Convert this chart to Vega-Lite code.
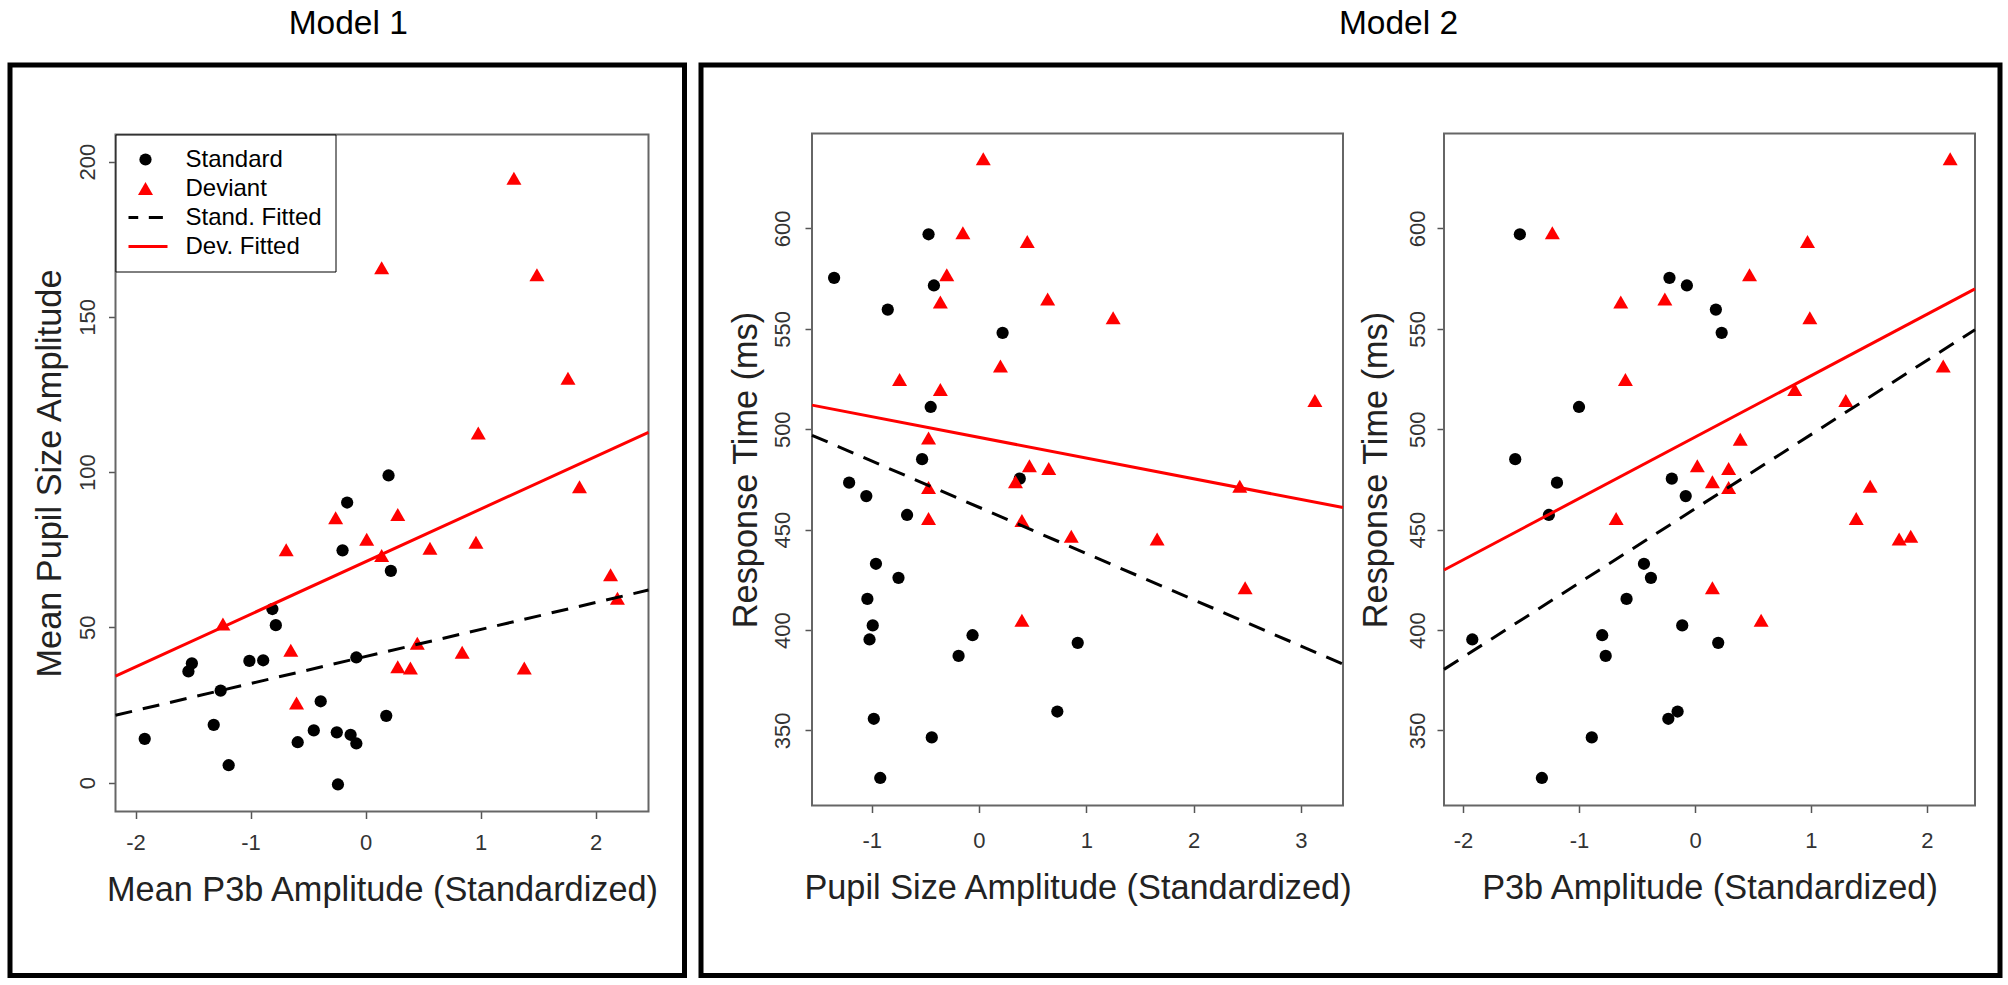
{
  "$schema": "https://vega.github.io/schema/vega-lite/v6.json",
  "background": "white",
  "padding": {"left": 7, "top": 4, "right": 0, "bottom": 0},
  "spacing": 11,
  "datasets": {
    "p1": [
      {"x": -1.92, "y": 14.1, "series": "Standard"},
      {"x": -1.54, "y": 35.8, "series": "Standard"},
      {"x": -1.51, "y": 38.4, "series": "Standard"},
      {"x": -1.26, "y": 29.6, "series": "Standard"},
      {"x": -1.32, "y": 18.6, "series": "Standard"},
      {"x": -1.19, "y": 5.6, "series": "Standard"},
      {"x": -1.01, "y": 39.2, "series": "Standard"},
      {"x": -0.89, "y": 39.4, "series": "Standard"},
      {"x": -0.81, "y": 55.9, "series": "Standard"},
      {"x": -0.78, "y": 50.7, "series": "Standard"},
      {"x": -0.59, "y": 13.0, "series": "Standard"},
      {"x": -0.45, "y": 16.8, "series": "Standard"},
      {"x": -0.39, "y": 26.2, "series": "Standard"},
      {"x": -0.25, "y": 16.2, "series": "Standard"},
      {"x": -0.24, "y": -0.6, "series": "Standard"},
      {"x": -0.16, "y": 90.2, "series": "Standard"},
      {"x": -0.20, "y": 74.8, "series": "Standard"},
      {"x": -0.13, "y": 15.4, "series": "Standard"},
      {"x": -0.08, "y": 12.6, "series": "Standard"},
      {"x": -0.08, "y": 40.3, "series": "Standard"},
      {"x": 0.20, "y": 98.9, "series": "Standard"},
      {"x": 0.22, "y": 68.2, "series": "Standard"},
      {"x": 0.18, "y": 21.5, "series": "Standard"},
      {"x": -1.24, "y": 51.1, "series": "Deviant"},
      {"x": -0.69, "y": 75.0, "series": "Deviant"},
      {"x": -0.65, "y": 42.6, "series": "Deviant"},
      {"x": -0.60, "y": 25.6, "series": "Deviant"},
      {"x": -0.26, "y": 85.3, "series": "Deviant"},
      {"x": 0.01, "y": 78.4, "series": "Deviant"},
      {"x": 0.14, "y": 165.8, "series": "Deviant"},
      {"x": 0.14, "y": 73.1, "series": "Deviant"},
      {"x": 0.28, "y": 86.3, "series": "Deviant"},
      {"x": 0.28, "y": 37.3, "series": "Deviant"},
      {"x": 0.39, "y": 36.9, "series": "Deviant"},
      {"x": 0.45, "y": 44.9, "series": "Deviant"},
      {"x": 0.56, "y": 75.5, "series": "Deviant"},
      {"x": 0.84, "y": 42.0, "series": "Deviant"},
      {"x": 0.96, "y": 77.4, "series": "Deviant"},
      {"x": 0.98, "y": 112.6, "series": "Deviant"},
      {"x": 1.29, "y": 194.6, "series": "Deviant"},
      {"x": 1.38, "y": 36.9, "series": "Deviant"},
      {"x": 1.49, "y": 163.5, "series": "Deviant"},
      {"x": 1.76, "y": 130.2, "series": "Deviant"},
      {"x": 1.86, "y": 95.3, "series": "Deviant"},
      {"x": 2.13, "y": 66.9, "series": "Deviant"},
      {"x": 2.19, "y": 59.4, "series": "Deviant"}
    ],
    "p2a": [
      {"x": -1.35, "y": 575.4, "series": "Standard"},
      {"x": -1.21, "y": 473.4, "series": "Standard"},
      {"x": -1.05, "y": 466.7, "series": "Standard"},
      {"x": -0.85, "y": 559.6, "series": "Standard"},
      {"x": -0.96, "y": 433.0, "series": "Standard"},
      {"x": -1.04, "y": 415.5, "series": "Standard"},
      {"x": -0.99, "y": 402.3, "series": "Standard"},
      {"x": -1.02, "y": 395.3, "series": "Standard"},
      {"x": -0.98, "y": 355.8, "series": "Standard"},
      {"x": -0.92, "y": 326.3, "series": "Standard"},
      {"x": -0.75, "y": 426.0, "series": "Standard"},
      {"x": -0.67, "y": 457.3, "series": "Standard"},
      {"x": -0.53, "y": 485.1, "series": "Standard"},
      {"x": -0.47, "y": 597.1, "series": "Standard"},
      {"x": -0.45, "y": 511.1, "series": "Standard"},
      {"x": -0.42, "y": 571.6, "series": "Standard"},
      {"x": -0.44, "y": 346.5, "series": "Standard"},
      {"x": -0.19, "y": 387.1, "series": "Standard"},
      {"x": -0.06, "y": 397.4, "series": "Standard"},
      {"x": 0.22, "y": 548.0, "series": "Standard"},
      {"x": 0.38, "y": 475.4, "series": "Standard"},
      {"x": 0.73, "y": 359.4, "series": "Standard"},
      {"x": 0.92, "y": 393.6, "series": "Standard"},
      {"x": 0.04, "y": 634.7, "series": "Deviant"},
      {"x": -0.15, "y": 597.9, "series": "Deviant"},
      {"x": 0.45, "y": 593.5, "series": "Deviant"},
      {"x": -0.30, "y": 576.9, "series": "Deviant"},
      {"x": -0.36, "y": 563.4, "series": "Deviant"},
      {"x": 0.64, "y": 564.9, "series": "Deviant"},
      {"x": 1.25, "y": 555.5, "series": "Deviant"},
      {"x": 0.20, "y": 531.5, "series": "Deviant"},
      {"x": -0.74, "y": 524.8, "series": "Deviant"},
      {"x": -0.36, "y": 519.8, "series": "Deviant"},
      {"x": 3.13, "y": 514.3, "series": "Deviant"},
      {"x": -0.47, "y": 495.6, "series": "Deviant"},
      {"x": 0.47, "y": 481.8, "series": "Deviant"},
      {"x": 0.65, "y": 480.4, "series": "Deviant"},
      {"x": 0.34, "y": 473.9, "series": "Deviant"},
      {"x": -0.47, "y": 471.0, "series": "Deviant"},
      {"x": 2.43, "y": 471.6, "series": "Deviant"},
      {"x": -0.47, "y": 455.5, "series": "Deviant"},
      {"x": 0.40, "y": 454.6, "series": "Deviant"},
      {"x": 0.86, "y": 446.7, "series": "Deviant"},
      {"x": 1.66, "y": 445.3, "series": "Deviant"},
      {"x": 2.48, "y": 421.0, "series": "Deviant"},
      {"x": 0.40, "y": 404.9, "series": "Deviant"}
    ],
    "p2b": [
      {"x": -1.51, "y": 597.1, "series": "Standard"},
      {"x": -1.55, "y": 485.1, "series": "Standard"},
      {"x": -1.19, "y": 473.4, "series": "Standard"},
      {"x": -1.26, "y": 457.3, "series": "Standard"},
      {"x": -1.00, "y": 511.1, "series": "Standard"},
      {"x": -1.92, "y": 395.3, "series": "Standard"},
      {"x": -1.32, "y": 326.3, "series": "Standard"},
      {"x": -0.89, "y": 346.5, "series": "Standard"},
      {"x": -0.80, "y": 397.4, "series": "Standard"},
      {"x": -0.77, "y": 387.1, "series": "Standard"},
      {"x": -0.59, "y": 415.5, "series": "Standard"},
      {"x": -0.44, "y": 433.0, "series": "Standard"},
      {"x": -0.38, "y": 426.0, "series": "Standard"},
      {"x": -0.22, "y": 575.4, "series": "Standard"},
      {"x": -0.07, "y": 571.6, "series": "Standard"},
      {"x": -0.20, "y": 475.4, "series": "Standard"},
      {"x": -0.08, "y": 466.7, "series": "Standard"},
      {"x": -0.23, "y": 355.8, "series": "Standard"},
      {"x": -0.15, "y": 359.4, "series": "Standard"},
      {"x": -0.11, "y": 402.3, "series": "Standard"},
      {"x": 0.18, "y": 559.6, "series": "Standard"},
      {"x": 0.23, "y": 548.0, "series": "Standard"},
      {"x": 0.20, "y": 393.6, "series": "Standard"},
      {"x": 2.20, "y": 634.7, "series": "Deviant"},
      {"x": -1.23, "y": 597.9, "series": "Deviant"},
      {"x": 0.97, "y": 593.5, "series": "Deviant"},
      {"x": 0.47, "y": 576.9, "series": "Deviant"},
      {"x": -0.64, "y": 563.4, "series": "Deviant"},
      {"x": -0.26, "y": 564.9, "series": "Deviant"},
      {"x": 0.99, "y": 555.5, "series": "Deviant"},
      {"x": 2.14, "y": 531.5, "series": "Deviant"},
      {"x": -0.60, "y": 524.8, "series": "Deviant"},
      {"x": 0.86, "y": 519.8, "series": "Deviant"},
      {"x": 1.30, "y": 514.3, "series": "Deviant"},
      {"x": 0.39, "y": 495.0, "series": "Deviant"},
      {"x": 0.02, "y": 481.8, "series": "Deviant"},
      {"x": 0.29, "y": 480.4, "series": "Deviant"},
      {"x": 0.15, "y": 473.9, "series": "Deviant"},
      {"x": 0.29, "y": 471.0, "series": "Deviant"},
      {"x": 1.51, "y": 471.6, "series": "Deviant"},
      {"x": -0.68, "y": 455.5, "series": "Deviant"},
      {"x": 1.39, "y": 455.5, "series": "Deviant"},
      {"x": 1.76, "y": 445.3, "series": "Deviant"},
      {"x": 1.86, "y": 446.7, "series": "Deviant"},
      {"x": 0.15, "y": 421.0, "series": "Deviant"},
      {"x": 0.57, "y": 404.9, "series": "Deviant"}
    ],
    "f1": [{"x0": -2.174, "x1": 2.46, "y0": -9.3, "y1": 208.7}],
    "f2a": [{"x0": -1.556, "x1": 3.392, "y0": 312.6, "y1": 647.3}],
    "f2b": [{"x0": -2.164, "x1": 2.414, "y0": 312.6, "y1": 647.3}],
    "l1": [
      {"xa": -2.174, "ya": 21.7, "xb": 2.46, "yb": 62.0, "fit": "Stand. Fitted"},
      {"xa": -2.174, "ya": 34.3, "xb": 2.46, "yb": 112.8, "fit": "Dev. Fitted"}
    ],
    "l2a": [
      {"xa": -1.556, "ya": 497.0, "xb": 3.392, "yb": 383.0, "fit": "Stand. Fitted"},
      {"xa": -1.556, "ya": 512.0, "xb": 3.392, "yb": 461.0, "fit": "Dev. Fitted"}
    ],
    "l2b": [
      {"xa": -2.164, "ya": 380.4, "xb": 2.414, "yb": 549.6, "fit": "Stand. Fitted"},
      {"xa": -2.164, "ya": 429.9, "xb": 2.414, "yb": 569.9, "fit": "Dev. Fitted"}
    ]
  },
  "hconcat": [
    {
      "width": 674.5,
      "height": 910.5,
      "title": {"text": "Model 1", "fontSize": 33.5, "fontWeight": "normal", "color": "black", "anchor": "middle", "frame": "group", "baseline": "alphabetic", "offset": -2, "dx": 1},
      "layer": [
        {
          "data": {"name": "f1"},
          "mark": {"type": "rect", "filled": false, "stroke": "#666", "strokeWidth": 2},
          "encoding": {
            "x": {"field": "x0", "type": "quantitative", "scale": {"domain": [-2.174, 2.46], "range": [105.5, 638.5], "nice": false, "zero": false},
              "axis": {"orient": "bottom", "offset": -164, "values": [-2, -1, 0, 1, 2], "title": "Mean P3b Amplitude (Standardized)", "domain": false, "grid": false, "tickSize": 7, "tickColor": "#555", "tickWidth": 1.5, "labelFontSize": 22, "labelColor": "#333", "labelBaseline": "alphabetic", "labelPadding": 31, "labelFlush": false, "labelOverlap": false, "labelExpr": "'' + datum.value", "titleFontSize": 34.3, "titleFontWeight": "normal", "titleColor": "#222", "titleBaseline": "alphabetic", "titleY": 89}},
            "x2": {"field": "x1"},
            "y": {"field": "y0", "type": "quantitative", "scale": {"domain": [-9.3, 208.7], "range": [746.5, 69.5], "nice": false, "zero": false},
              "axis": {"orient": "left", "offset": -105.5, "values": [0, 50, 100, 150, 200], "title": "Mean Pupil Size Amplitude", "domain": false, "grid": false, "tickSize": 7, "tickColor": "#555", "tickWidth": 1.5, "labelFontSize": 22, "labelColor": "#333", "labelAngle": -90, "labelAlign": "center", "labelBaseline": "alphabetic", "labelPadding": 14, "labelFlush": false, "labelOverlap": false, "labelExpr": "'' + datum.value", "titleFontSize": 34.3, "titleFontWeight": "normal", "titleColor": "#222", "titleAngle": -90, "titleAlign": "center", "titleBaseline": "alphabetic", "titleX": -55}},
            "y2": {"field": "y1"}
          }
        },
        {
          "data": {"name": "p1"},
          "mark": {"type": "point", "filled": true, "opacity": 1, "strokeWidth": 0},
          "encoding": {
            "x": {"field": "x", "type": "quantitative", "title": "Mean P3b Amplitude (Standardized)", "scale": {"domain": [-2.174, 2.46], "range": [105.5, 638.5], "nice": false, "zero": false}},
            "y": {"field": "y", "type": "quantitative", "title": "Mean Pupil Size Amplitude", "scale": {"domain": [-9.3, 208.7], "range": [746.5, 69.5], "nice": false, "zero": false}},
            "color": {"field": "series", "type": "nominal",
              "scale": {"domain": ["Standard", "Deviant", "Stand. Fitted", "Dev. Fitted"], "range": ["#000000", "#ff0000", "#000000", "#ff0000"]},
              "legend": {"orient": "none", "legendX": 105.5, "legendY": 69.5, "title": null, "padding": 13, "strokeColor": "black", "fillColor": "white", "labelFontSize": 24, "labelColor": "black", "symbolOffset": -5, "labelOffset": 18, "clipHeight": 24, "rowPadding": 5, "symbolStrokeWidth": 0, "symbolOpacity": 1, "labelLimit": 0, "direction": "vertical"}},
            "shape": {"field": "series", "type": "nominal",
              "scale": {"domain": ["Standard", "Deviant", "Stand. Fitted", "Dev. Fitted"], "range": ["circle", "triangle-up", "M-1,-0.07H-0.33V0.07H-1Z M0.15,-0.07H0.79V0.07H0.15Z", "M-1,-0.07H1V0.07H-1Z"]}},
            "size": {"field": "series", "type": "nominal",
              "scale": {"type": "ordinal", "domain": ["Standard", "Deviant", "Stand. Fitted", "Dev. Fitted"], "range": [150, 225, 1936, 1936]}}
          }
        },
        {
          "data": {"name": "l1"},
          "transform": [{"filter": "datum.fit == 'Stand. Fitted'"}],
          "mark": {"type": "rule", "color": "#000000", "strokeWidth": 3, "strokeDash": [17, 11]},
          "encoding": {
            "x": {"field": "xa", "type": "quantitative", "title": "Mean P3b Amplitude (Standardized)", "scale": {"domain": [-2.174, 2.46], "range": [105.5, 638.5], "nice": false, "zero": false}},
            "y": {"field": "ya", "type": "quantitative", "title": "Mean Pupil Size Amplitude", "scale": {"domain": [-9.3, 208.7], "range": [746.5, 69.5], "nice": false, "zero": false}},
            "x2": {"field": "xb"},
            "y2": {"field": "yb"}
          }
        },
        {
          "data": {"name": "l1"},
          "transform": [{"filter": "datum.fit == 'Dev. Fitted'"}],
          "mark": {"type": "rule", "color": "#ff0000", "strokeWidth": 3},
          "encoding": {
            "x": {"field": "xa", "type": "quantitative", "title": "Mean P3b Amplitude (Standardized)", "scale": {"domain": [-2.174, 2.46], "range": [105.5, 638.5], "nice": false, "zero": false}},
            "y": {"field": "ya", "type": "quantitative", "title": "Mean Pupil Size Amplitude", "scale": {"domain": [-9.3, 208.7], "range": [746.5, 69.5], "nice": false, "zero": false}},
            "x2": {"field": "xb"},
            "y2": {"field": "yb"}
          }
        }
      ]
    },
    {
      "width": 1299,
      "height": 910.5,
      "title": {"text": "Model 2", "fontSize": 33.5, "fontWeight": "normal", "color": "black", "anchor": "middle", "frame": "group", "baseline": "alphabetic", "offset": -2, "dx": 48},
      "resolve": {"scale": {"x": "independent", "y": "independent"}},
      "layer": [
        {
          "layer": [
            {
              "data": {"name": "f2a"},
              "mark": {"type": "rect", "filled": false, "stroke": "#666", "strokeWidth": 2},
              "encoding": {
                "x": {"field": "x0", "type": "quantitative", "scale": {"domain": [-1.556, 3.392], "range": [111, 642], "nice": false, "zero": false},
                  "axis": {"orient": "bottom", "offset": -170, "values": [-1, 0, 1, 2, 3], "title": "Pupil Size Amplitude (Standardized)", "domain": false, "grid": false, "tickSize": 7, "tickColor": "#555", "tickWidth": 1.5, "labelFontSize": 22, "labelColor": "#333", "labelBaseline": "alphabetic", "labelPadding": 35, "labelFlush": false, "labelOverlap": false, "labelExpr": "'' + datum.value", "titleFontSize": 34.3, "titleFontWeight": "normal", "titleColor": "#222", "titleBaseline": "alphabetic", "titleY": 93}},
                "x2": {"field": "x1"},
                "y": {"field": "y0", "type": "quantitative", "scale": {"domain": [312.6, 647.3], "range": [740.5, 68.5], "nice": false, "zero": false},
                  "axis": {"orient": "left", "offset": -111, "values": [350, 400, 450, 500, 550, 600], "title": "Response Time (ms)", "domain": false, "grid": false, "tickSize": 7, "tickColor": "#555", "tickWidth": 1.5, "labelFontSize": 22, "labelColor": "#333", "labelAngle": -90, "labelAlign": "center", "labelBaseline": "alphabetic", "labelPadding": 16, "labelFlush": false, "labelOverlap": false, "labelExpr": "'' + datum.value", "titleFontSize": 34.3, "titleFontWeight": "normal", "titleColor": "#222", "titleAngle": -90, "titleAlign": "center", "titleBaseline": "alphabetic", "titleX": -56}},
                "y2": {"field": "y1"}
              }
            },
            {
              "data": {"name": "p2a"},
              "mark": {"type": "point", "filled": true, "opacity": 1, "strokeWidth": 0},
              "encoding": {
                "x": {"field": "x", "type": "quantitative", "title": "Pupil Size Amplitude (Standardized)", "scale": {"domain": [-1.556, 3.392], "range": [111, 642], "nice": false, "zero": false}},
                "y": {"field": "y", "type": "quantitative", "title": "Response Time (ms)", "scale": {"domain": [312.6, 647.3], "range": [740.5, 68.5], "nice": false, "zero": false}},
                "color": {"field": "series", "type": "nominal", "legend": null, "scale": {"domain": ["Standard", "Deviant"], "range": ["#000000", "#ff0000"]}},
                "shape": {"field": "series", "type": "nominal", "legend": null, "scale": {"domain": ["Standard", "Deviant"], "range": ["circle", "triangle-up"]}},
                "size": {"field": "series", "type": "nominal", "legend": null, "scale": {"type": "ordinal", "domain": ["Standard", "Deviant"], "range": [150, 225]}}
              }
            },
            {
              "data": {"name": "l2a"},
              "transform": [{"filter": "datum.fit == 'Stand. Fitted'"}],
              "mark": {"type": "rule", "color": "#000000", "strokeWidth": 3, "strokeDash": [17, 11]},
              "encoding": {
                "x": {"field": "xa", "type": "quantitative", "title": "Pupil Size Amplitude (Standardized)", "scale": {"domain": [-1.556, 3.392], "range": [111, 642], "nice": false, "zero": false}},
                "y": {"field": "ya", "type": "quantitative", "title": "Response Time (ms)", "scale": {"domain": [312.6, 647.3], "range": [740.5, 68.5], "nice": false, "zero": false}},
                "x2": {"field": "xb"},
                "y2": {"field": "yb"}
              }
            },
            {
              "data": {"name": "l2a"},
              "transform": [{"filter": "datum.fit == 'Dev. Fitted'"}],
              "mark": {"type": "rule", "color": "#ff0000", "strokeWidth": 3},
              "encoding": {
                "x": {"field": "xa", "type": "quantitative", "title": "Pupil Size Amplitude (Standardized)", "scale": {"domain": [-1.556, 3.392], "range": [111, 642], "nice": false, "zero": false}},
                "y": {"field": "ya", "type": "quantitative", "title": "Response Time (ms)", "scale": {"domain": [312.6, 647.3], "range": [740.5, 68.5], "nice": false, "zero": false}},
                "x2": {"field": "xb"},
                "y2": {"field": "yb"}
              }
            }
          ]
        },
        {
          "layer": [
            {
              "data": {"name": "f2b"},
              "mark": {"type": "rect", "filled": false, "stroke": "#666", "strokeWidth": 2},
              "encoding": {
                "x": {"field": "x0", "type": "quantitative", "scale": {"domain": [-2.164, 2.414], "range": [743, 1274], "nice": false, "zero": false},
                  "axis": {"orient": "bottom", "offset": -170, "values": [-2, -1, 0, 1, 2], "title": "P3b Amplitude (Standardized)", "domain": false, "grid": false, "tickSize": 7, "tickColor": "#555", "tickWidth": 1.5, "labelFontSize": 22, "labelColor": "#333", "labelBaseline": "alphabetic", "labelPadding": 35, "labelFlush": false, "labelOverlap": false, "labelExpr": "'' + datum.value", "titleFontSize": 34.3, "titleFontWeight": "normal", "titleColor": "#222", "titleBaseline": "alphabetic", "titleY": 93}},
                "x2": {"field": "x1"},
                "y": {"field": "y0", "type": "quantitative", "scale": {"domain": [312.6, 647.3], "range": [740.5, 68.5], "nice": false, "zero": false},
                  "axis": {"orient": "left", "offset": -743, "values": [350, 400, 450, 500, 550, 600], "title": "Response Time (ms)", "domain": false, "grid": false, "tickSize": 7, "tickColor": "#555", "tickWidth": 1.5, "labelFontSize": 22, "labelColor": "#333", "labelAngle": -90, "labelAlign": "center", "labelBaseline": "alphabetic", "labelPadding": 12.7, "labelFlush": false, "labelOverlap": false, "labelExpr": "'' + datum.value", "titleFontSize": 34.3, "titleFontWeight": "normal", "titleColor": "#222", "titleAngle": -90, "titleAlign": "center", "titleBaseline": "alphabetic", "titleX": -58}},
                "y2": {"field": "y1"}
              }
            },
            {
              "data": {"name": "p2b"},
              "mark": {"type": "point", "filled": true, "opacity": 1, "strokeWidth": 0},
              "encoding": {
                "x": {"field": "x", "type": "quantitative", "title": "P3b Amplitude (Standardized)", "scale": {"domain": [-2.164, 2.414], "range": [743, 1274], "nice": false, "zero": false}},
                "y": {"field": "y", "type": "quantitative", "title": "Response Time (ms)", "scale": {"domain": [312.6, 647.3], "range": [740.5, 68.5], "nice": false, "zero": false}},
                "color": {"field": "series", "type": "nominal", "legend": null, "scale": {"domain": ["Standard", "Deviant"], "range": ["#000000", "#ff0000"]}},
                "shape": {"field": "series", "type": "nominal", "legend": null, "scale": {"domain": ["Standard", "Deviant"], "range": ["circle", "triangle-up"]}},
                "size": {"field": "series", "type": "nominal", "legend": null, "scale": {"type": "ordinal", "domain": ["Standard", "Deviant"], "range": [150, 225]}}
              }
            },
            {
              "data": {"name": "l2b"},
              "transform": [{"filter": "datum.fit == 'Stand. Fitted'"}],
              "mark": {"type": "rule", "color": "#000000", "strokeWidth": 3, "strokeDash": [17, 11]},
              "encoding": {
                "x": {"field": "xa", "type": "quantitative", "title": "P3b Amplitude (Standardized)", "scale": {"domain": [-2.164, 2.414], "range": [743, 1274], "nice": false, "zero": false}},
                "y": {"field": "ya", "type": "quantitative", "title": "Response Time (ms)", "scale": {"domain": [312.6, 647.3], "range": [740.5, 68.5], "nice": false, "zero": false}},
                "x2": {"field": "xb"},
                "y2": {"field": "yb"}
              }
            },
            {
              "data": {"name": "l2b"},
              "transform": [{"filter": "datum.fit == 'Dev. Fitted'"}],
              "mark": {"type": "rule", "color": "#ff0000", "strokeWidth": 3},
              "encoding": {
                "x": {"field": "xa", "type": "quantitative", "title": "P3b Amplitude (Standardized)", "scale": {"domain": [-2.164, 2.414], "range": [743, 1274], "nice": false, "zero": false}},
                "y": {"field": "ya", "type": "quantitative", "title": "Response Time (ms)", "scale": {"domain": [312.6, 647.3], "range": [740.5, 68.5], "nice": false, "zero": false}},
                "x2": {"field": "xb"},
                "y2": {"field": "yb"}
              }
            }
          ]
        }
      ]
    }
  ],
  "resolve": {"scale": {"color": "independent", "shape": "independent", "size": "independent"}},
  "config": {
    "font": "Liberation Sans",
    "view": {"stroke": "black", "strokeWidth": 5},
    "axis": {"labelFont": "Liberation Sans", "titleFont": "Liberation Sans"},
    "legend": {"labelFont": "Liberation Sans"},
    "title": {"font": "Liberation Sans"}
  }
}
